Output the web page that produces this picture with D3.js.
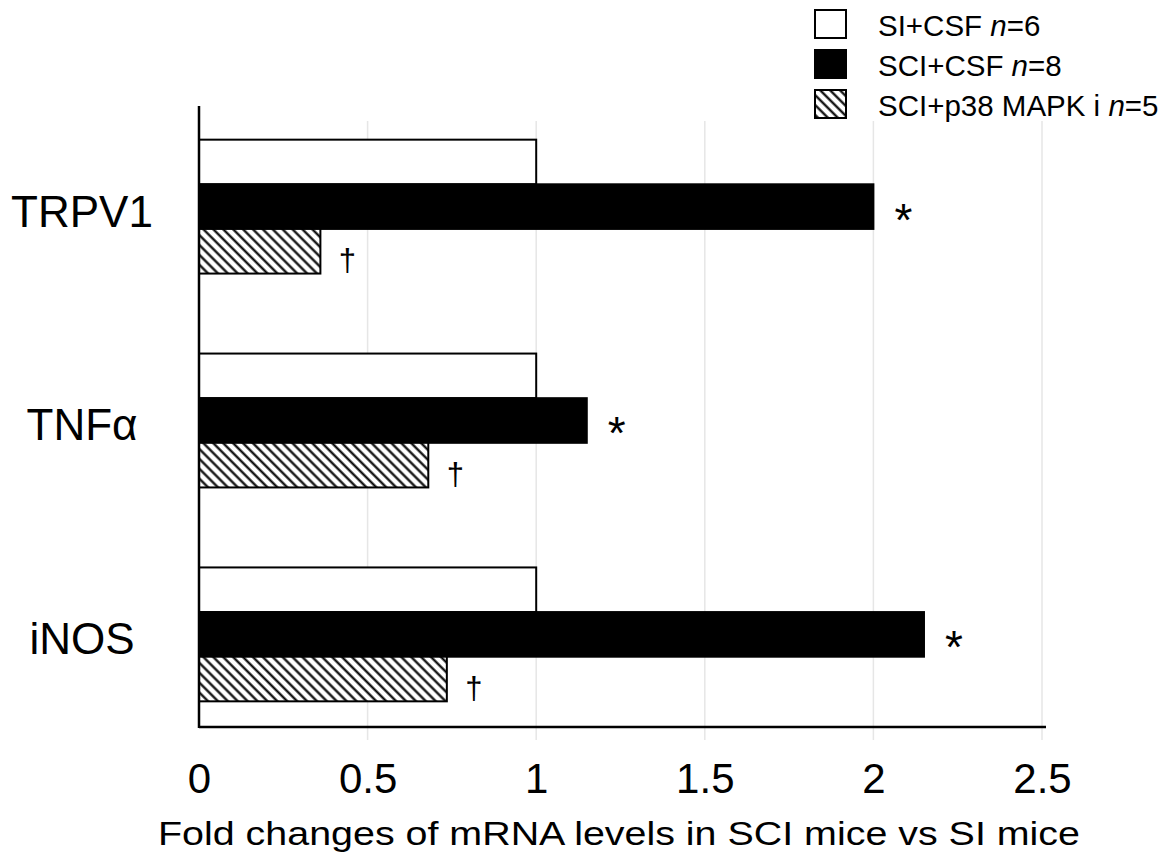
<!DOCTYPE html>
<html>
<head>
<meta charset="utf-8">
<script src="https://cdn.jsdelivr.net/npm/d3@7"></script>
<style>
  body { margin: 0; background: #fff; }
  text { font-family: "Liberation Sans", Arial, sans-serif; fill: #000; }
</style>
</head>
<body>
<svg id="chart" width="1175" height="854"></svg>
<script>

// genes, top to bottom
var genes = ["TRPV1", "TNFα", "iNOS"];
var groups = ["SI+CSF", "SCI+CSF", "SCI+p38 MAPK i"];
var groupN = [6, 8, 5];

// fold change values per gene
var siCsf = [1, 1, 1];
var sciCsf = [2.0, 1.15, 2.15];
var sciP38 = [0.36, 0.68, 0.735];

var xTicks = [0, 0.5, 1, 1.5, 2, 2.5];
var xTitle = "Fold changes of mRNA levels in SCI mice vs SI mice";

var svg = d3.select("#chart");

// hatch pattern for the p38 inhibitor bars
var defs = svg.append("defs");
defs.append("pattern")
  .attr("id", "hatch")
  .attr("patternUnits", "userSpaceOnUse")
  .attr("width", 8)
  .attr("height", 7)
  .attr("patternTransform", "rotate(45)")
  .call(function(p) {
    p.append("rect").attr("width", 8).attr("height", 7).attr("fill", "#fff");
    p.append("line")
      .attr("x1", 0).attr("x2", 8)
      .attr("y1", 3.5).attr("y2", 3.5)
      .attr("stroke", "#000")
      .attr("stroke-width", 2.2);
  });

var fills = ["#fff", "#000", "url(#hatch)"];

var x = d3.scaleLinear().domain([0, 2.5]).range([199, 1042]);

var y = d3.scaleBand().domain(genes)
  .range([114, 727])
  .paddingInner(0.374)
  .paddingOuter(0.12);

var ySub = d3.scaleBand().domain(groups).range([0, y.bandwidth()]);

// light vertical gridlines
svg.append("g")
  .selectAll("line")
  .data(xTicks.slice(1))
  .enter()
  .append("line")
  .attr("x1", function(d) { return x(d); })
  .attr("x2", function(d) { return x(d); })
  .attr("y1", 121)
  .attr("y2", 740)
  .attr("stroke", "#e6e6e6")
  .attr("stroke-width", 1.5);

var rows = genes.map(function(g, i) {
  return { gene: g, values: [siCsf[i], sciCsf[i], sciP38[i]] };
});

var geneG = svg.append("g")
  .selectAll("g")
  .data(rows)
  .enter()
  .append("g")
  .attr("transform", function(d) { return "translate(0," + y(d.gene) + ")"; });

geneG.selectAll("rect")
  .data(function(d) {
    return d.values.map(function(v, j) { return { group: groups[j], value: v, k: j }; });
  })
  .enter()
  .append("rect")
  .attr("x", x(0))
  .attr("y", function(d) { return ySub(d.group); })
  .attr("width", function(d) { return x(d.value) - x(0); })
  .attr("height", ySub.bandwidth())
  .attr("fill", function(d) { return fills[d.k]; })
  .attr("stroke", "#000")
  .attr("stroke-width", 2);

// significance marks
geneG.append("text")
  .attr("x", function(d) { return x(d.values[1]) + 30; })
  .attr("y", function(d) { return ySub(groups[1]) + ySub.bandwidth() / 2 + 29; })
  .attr("text-anchor", "middle")
  .attr("font-size", 46)
  .text("*");

geneG.append("text")
  .attr("x", function(d) { return x(d.values[2]) + 27; })
  .attr("y", function(d) { return ySub(groups[2]) + ySub.bandwidth() / 2 + 20; })
  .attr("text-anchor", "middle")
  .attr("font-size", 31)
  .text("†");

// gene labels
geneG.append("text")
  .attr("x", 82)
  .attr("y", y.bandwidth() / 2 + 20)
  .attr("text-anchor", "middle")
  .attr("font-size", 44)
  .text(function(d) { return d.gene; });

// axes lines
svg.append("line")
  .attr("x1", x(0)).attr("x2", x(0))
  .attr("y1", 106).attr("y2", 728)
  .attr("stroke", "#000").attr("stroke-width", 2.5);

var xAxis = d3.axisBottom(x).tickValues(xTicks).tickSize(0).tickPadding(0)
  .tickFormat(d3.format("~g"));

var ax = svg.append("g")
  .attr("class", "x axis")
  .attr("transform", "translate(0,727)")
  .call(xAxis);

ax.select(".domain")
  .attr("d", "M" + x(0) + ",0H" + (x(2.5) + 4))
  .attr("stroke", "#000")
  .attr("stroke-width", 2.5);

ax.selectAll(".tick text")
  .attr("y", 66)
  .attr("dy", 0)
  .attr("font-size", 42)
  .attr("font-family", "Liberation Sans, Arial, sans-serif")
  .attr("fill", "#000");

svg.append("text")
  .attr("x", 619)
  .attr("y", 845)
  .attr("text-anchor", "middle")
  .attr("font-size", 33)
  .attr("textLength", 922)
  .attr("lengthAdjust", "spacingAndGlyphs")
  .text(xTitle);

// legend
var legend = svg.append("g")
  .selectAll("g")
  .data(groups)
  .enter()
  .append("g")
  .attr("transform", function(d, i) { return "translate(815," + (10 + i * 40) + ")"; });

legend.append("rect")
  .attr("width", 31)
  .attr("height", 28)
  .attr("fill", function(d, i) { return fills[i]; })
  .attr("stroke", "#000")
  .attr("stroke-width", 2);

var lt = legend.append("text")
  .attr("x", 63)
  .attr("y", 26)
  .attr("font-size", 29.5);

lt.append("tspan").text(function(d) { return d + " "; });
lt.append("tspan").attr("font-style", "italic").text("n");
lt.append("tspan").text(function(d, i) { return "=" + groupN[i]; });

</script>
</body>
</html>
